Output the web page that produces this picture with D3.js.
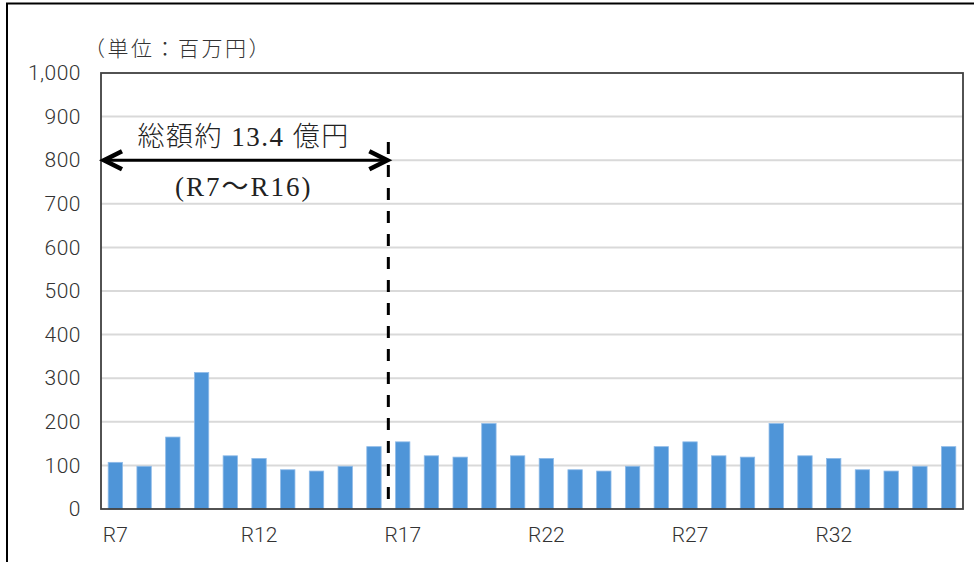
<!DOCTYPE html>
<html lang="ja">
<head>
<meta charset="utf-8">
<script src="https://cdn.jsdelivr.net/npm/d3@7"></script>
<style>
  html, body { margin: 0; padding: 0; background: #fff; }
  svg { display: block; }
</style>
</head>
<body>
<svg id="chart" width="974" height="562"></svg>
<script>
// 年度（令和）
const years = ["R7","R8","R9","R10","R11","R12","R13","R14","R15","R16",
               "R17","R18","R19","R20","R21","R22","R23","R24","R25","R26",
               "R27","R28","R29","R30","R31","R32","R33","R34","R35","R36"];
// 各年度の費用（百万円）
const costs = [107, 98, 165, 313, 122, 116, 90, 87, 98, 143,
               154, 122, 119, 196, 122, 116, 90, 87, 98, 143,
               154, 122, 119, 196, 122, 116, 90, 87, 98, 143];
// 目盛
const yTicks = [0, 100, 200, 300, 400, 500, 600, 700, 800, 900, 1000];
const xLabelYears = ["R7", "R12", "R17", "R22", "R27", "R32"];
// 注記
const unitLabel = "（単位：百万円）";
const totalLabel = "総額約 13.4 億円";
const rangeLabel = "(R7～R16)";
const rangeStart = "R7", rangeEnd = "R16";

const svg = d3.select("#chart");
const plot = { left: 101, right: 963, top: 73, bottom: 509 };

const x = d3.scaleBand()
  .domain(years)
  .range([plot.left, plot.right])
  .paddingInner(0.5)
  .paddingOuter(0.25);

const y = d3.scaleLinear()
  .domain([0, 1000])
  .range([plot.bottom, plot.top]);

const tickFont = "Roboto, 'Liberation Sans', sans-serif";

// 外枠
svg.append("rect")
  .attr("x", 7).attr("y", 3.5)
  .attr("width", 1000).attr("height", 600)
  .attr("fill", "none").attr("stroke", "#000").attr("stroke-width", 2);

// 目盛線
svg.append("g")
  .selectAll("line")
  .data(yTicks.filter(d => d > 0 && d < 1000))
  .join("line")
  .attr("x1", plot.left).attr("x2", plot.right)
  .attr("y1", d => y(d)).attr("y2", d => y(d))
  .attr("stroke", "#d9d9d9").attr("stroke-width", 2);

// 棒
svg.append("g")
  .selectAll("rect")
  .data(years.map((yr, i) => ({ yr, v: costs[i] })))
  .join("rect")
  .attr("x", d => x(d.yr))
  .attr("y", d => y(d.v))
  .attr("width", x.bandwidth())
  .attr("height", d => y(0) - y(d.v))
  .attr("fill", "#4f95d8")
  .attr("stroke", "#8fbbe8")
  .attr("stroke-width", 0.8);

// グラフ枠
svg.append("rect")
  .attr("x", plot.left).attr("y", plot.top)
  .attr("width", plot.right - plot.left)
  .attr("height", plot.bottom - plot.top)
  .attr("fill", "none").attr("stroke", "#404040").attr("stroke-width", 1.8);

// Y軸
const yAxis = d3.axisLeft(y)
  .tickValues(yTicks)
  .tickSize(0)
  .tickPadding(20)
  .tickFormat(d3.format(","));
svg.append("g")
  .attr("transform", `translate(${plot.left},0)`)
  .call(yAxis)
  .call(g => g.select(".domain").remove())
  .call(g => g.selectAll("text")
    .attr("font-family", tickFont)
    .attr("font-weight", 300)
    .attr("font-size", 21)
    .attr("letter-spacing", 0.5)
    .attr("fill", "#333"));

// X軸
const xAxis = d3.axisBottom(x)
  .tickValues(xLabelYears)
  .tickSize(0)
  .tickPadding(18);
svg.append("g")
  .attr("transform", `translate(0,${plot.bottom})`)
  .call(xAxis)
  .call(g => g.select(".domain").remove())
  .call(g => g.selectAll("text")
    .attr("font-family", tickFont)
    .attr("font-weight", 300)
    .attr("font-size", 21)
    .attr("fill", "#333"));

// 単位
svg.append("text")
  .attr("x", 84).attr("y", 47)
  .attr("dominant-baseline", "central")
  .attr("font-family", "'Noto Sans CJK JP', sans-serif")
  .attr("font-weight", 300)
  .attr("font-size", 21)
  .attr("letter-spacing", 2.5)
  .attr("fill", "#333")
  .text(unitLabel);

// 区切り線（R16 と R17 の間）
const step = x.step();
const divX = x(rangeEnd) + x.bandwidth() + (step - x.bandwidth()) / 2;
svg.append("line")
  .attr("x1", divX).attr("x2", divX)
  .attr("y1", y(842)).attr("y2", y(12))
  .attr("stroke", "#000").attr("stroke-width", 3)
  .attr("stroke-dasharray", "12,11");

// 両矢印
const arrowY = y(800);
const ax0 = x(rangeStart) - (step - x.bandwidth()) / 2 + 3;
const ax1 = divX - 1;
svg.append("line")
  .attr("x1", ax0 + 2).attr("x2", ax1 - 2)
  .attr("y1", arrowY).attr("y2", arrowY)
  .attr("stroke", "#000").attr("stroke-width", 3);
const head = (tipX, dir) =>
  `M${tipX + dir * 18},${arrowY - 9} L${tipX},${arrowY} L${tipX + dir * 18},${arrowY + 9}`;
svg.append("path")
  .attr("d", head(ax0, 1) + " " + head(ax1, -1))
  .attr("fill", "none").attr("stroke", "#000")
  .attr("stroke-width", 4.5).attr("stroke-linejoin", "miter")
  .attr("stroke-linecap", "butt");

const midX = (ax0 + ax1) / 2 - 2;
svg.append("text")
  .attr("x", midX).attr("y", arrowY - 23)
  .attr("text-anchor", "middle").attr("dominant-baseline", "central")
  .attr("font-family", "'Liberation Serif', 'Noto Sans CJK JP', serif")
  .attr("font-weight", 300)
  .attr("font-size", 27)
  .attr("letter-spacing", 1.5)
  .attr("fill", "#222")
  .text(totalLabel);
svg.append("text")
  .attr("x", midX).attr("y", arrowY + 27)
  .attr("text-anchor", "middle").attr("dominant-baseline", "central")
  .attr("font-family", "'Liberation Serif', 'Noto Sans CJK JP', serif")
  .attr("font-size", 27)
  .attr("letter-spacing", 2)
  .attr("fill", "#222")
  .text(rangeLabel);
</script>
</body>
</html>
